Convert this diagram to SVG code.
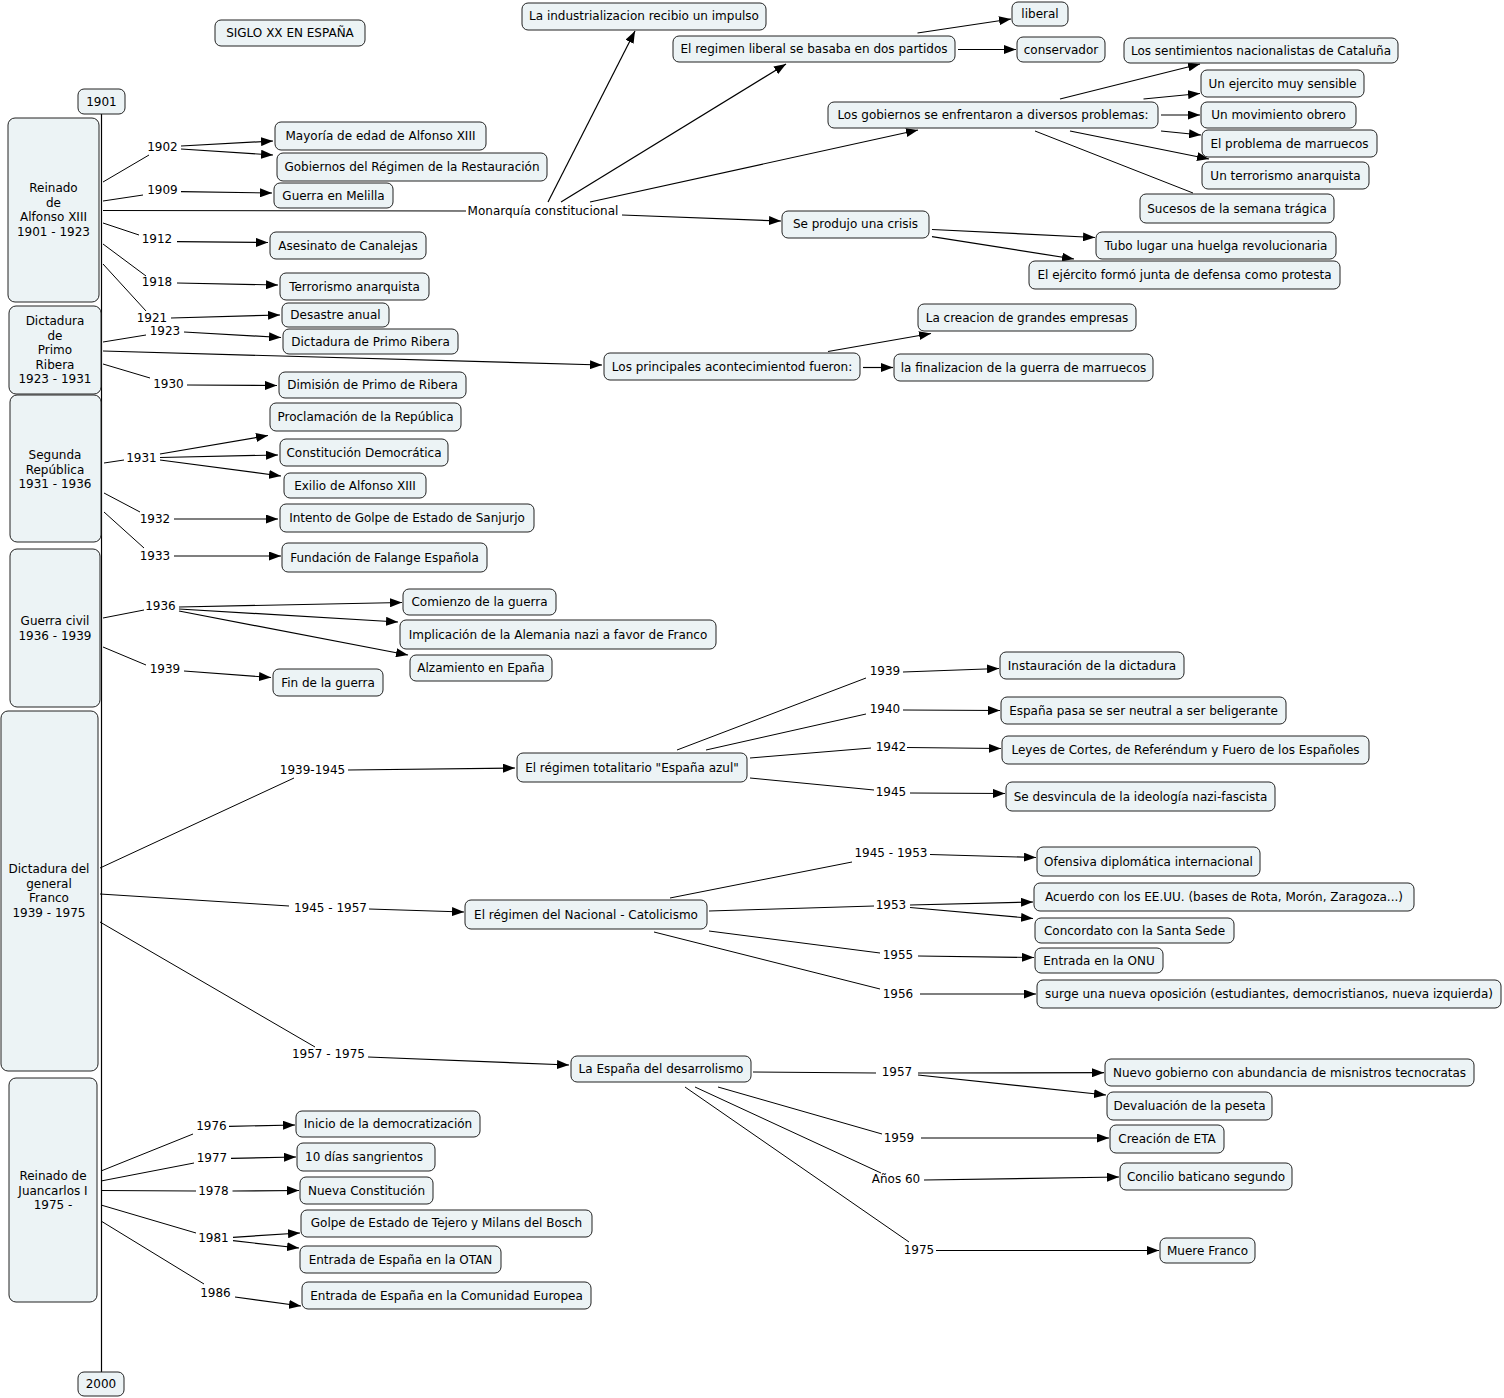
<svg xmlns="http://www.w3.org/2000/svg" width="1504" height="1398" viewBox="0 0 1504 1398">
<defs>
<marker id="ah" markerUnits="userSpaceOnUse" markerWidth="12" markerHeight="9" refX="12" refY="4.5" orient="auto"><path d="M0,0 L12,4.5 L0,9 z" fill="#000"/></marker>
<style>
rect.n{fill:#ecf3f5;stroke:#222;stroke-width:1}
text{font-family:"DejaVu Sans",Verdana,sans-serif;font-size:12px;fill:#000;text-anchor:middle;dominant-baseline:central}
#connectors line{stroke:#000;stroke-width:1;fill:none}
#connectors line.a{marker-end:url(#ah);stroke-width:1.2}
</style>
</defs>
<rect width="1504" height="1398" fill="#fff"/>
<g id="connectors">
<line x1="101.5" y1="114" x2="101.5" y2="1372" style="stroke:#000;stroke-width:1.2"/>
<line x1="103" y1="182" x2="149" y2="155"/>
<line x1="103" y1="201" x2="143" y2="195"/>
<line x1="103" y1="210.5" x2="466" y2="211"/>
<line x1="103" y1="223" x2="139" y2="235"/>
<line x1="103" y1="244" x2="146" y2="276"/>
<line x1="103" y1="264" x2="146" y2="311"/>
<line x1="103" y1="342" x2="146" y2="335"/>
<line x1="103" y1="364" x2="150" y2="378"/>
<line x1="104" y1="463" x2="124" y2="460"/>
<line x1="104" y1="493" x2="140" y2="512"/>
<line x1="104" y1="512" x2="144" y2="548"/>
<line x1="103" y1="618" x2="144" y2="610"/>
<line x1="103" y1="647" x2="146" y2="665"/>
<line x1="100" y1="868" x2="294" y2="778"/>
<line x1="100" y1="894" x2="289" y2="906"/>
<line x1="100" y1="922" x2="315" y2="1047"/>
<line x1="101" y1="1171" x2="193" y2="1134"/>
<line x1="101" y1="1181" x2="194" y2="1163"/>
<line x1="101" y1="1190.5" x2="196" y2="1191"/>
<line x1="101" y1="1205" x2="196" y2="1233"/>
<line x1="101" y1="1221" x2="204" y2="1284"/>
<line x1="677" y1="750" x2="866" y2="678"/>
<line x1="706" y1="750" x2="866" y2="714"/>
<line x1="750" y1="758" x2="871" y2="748"/>
<line x1="750" y1="778" x2="874" y2="790"/>
<line x1="670" y1="898" x2="852" y2="862"/>
<line x1="709" y1="911" x2="874" y2="906"/>
<line x1="709" y1="931" x2="880" y2="953"/>
<line x1="654" y1="932" x2="880" y2="989"/>
<line x1="753" y1="1072" x2="876" y2="1073"/>
<line x1="718" y1="1087" x2="882" y2="1134"/>
<line x1="695" y1="1087" x2="881" y2="1173"/>
<line x1="685" y1="1087" x2="909" y2="1242"/>
<line x1="1035" y1="131" x2="1193" y2="193"/>
<line class="a" x1="181" y1="146" x2="273" y2="141"/>
<line class="a" x1="181" y1="149" x2="273" y2="155"/>
<line class="a" x1="181" y1="191.7" x2="272" y2="193"/>
<line class="a" x1="177" y1="241.7" x2="268" y2="242.5"/>
<line class="a" x1="177" y1="283" x2="278" y2="285"/>
<line class="a" x1="171" y1="318" x2="280" y2="315"/>
<line class="a" x1="184" y1="332" x2="281" y2="337.5"/>
<line class="a" x1="187" y1="385" x2="277" y2="385.5"/>
<line class="a" x1="103" y1="351" x2="602" y2="365"/>
<line class="a" x1="160" y1="454" x2="268" y2="435.5"/>
<line class="a" x1="160" y1="457.5" x2="278" y2="455"/>
<line class="a" x1="160" y1="460" x2="281" y2="476"/>
<line class="a" x1="174" y1="519" x2="278" y2="519"/>
<line class="a" x1="174" y1="556" x2="281" y2="556"/>
<line class="a" x1="179" y1="607" x2="402" y2="602.5"/>
<line class="a" x1="179" y1="609" x2="398" y2="622"/>
<line class="a" x1="179" y1="611" x2="408" y2="655"/>
<line class="a" x1="184" y1="671" x2="271" y2="677.5"/>
<line class="a" x1="348" y1="770" x2="515" y2="768"/>
<line class="a" x1="369" y1="909" x2="464" y2="912"/>
<line class="a" x1="368" y1="1057" x2="569" y2="1065"/>
<line class="a" x1="903" y1="672" x2="999" y2="668.5"/>
<line class="a" x1="903" y1="710" x2="1000" y2="710.5"/>
<line class="a" x1="907" y1="747.5" x2="1001" y2="748.5"/>
<line class="a" x1="910" y1="793" x2="1005" y2="793.5"/>
<line class="a" x1="930" y1="854.5" x2="1036" y2="857.5"/>
<line class="a" x1="910" y1="905" x2="1033" y2="902"/>
<line class="a" x1="910" y1="907.5" x2="1033" y2="918.5"/>
<line class="a" x1="918" y1="956" x2="1034" y2="957.5"/>
<line class="a" x1="920" y1="994" x2="1036" y2="994"/>
<line class="a" x1="918" y1="1073" x2="1104" y2="1072.7"/>
<line class="a" x1="918" y1="1075" x2="1106" y2="1095"/>
<line class="a" x1="921" y1="1138" x2="1109" y2="1138"/>
<line class="a" x1="924" y1="1180" x2="1119" y2="1177"/>
<line class="a" x1="936" y1="1250.5" x2="1159" y2="1250.5"/>
<line class="a" x1="229" y1="1126.3" x2="295" y2="1125"/>
<line class="a" x1="231" y1="1158.4" x2="296" y2="1157"/>
<line class="a" x1="232.5" y1="1191" x2="299" y2="1190.5"/>
<line class="a" x1="233" y1="1237.3" x2="300" y2="1233"/>
<line class="a" x1="233" y1="1240.7" x2="299" y2="1248"/>
<line class="a" x1="235" y1="1297" x2="301" y2="1306"/>
<line class="a" x1="548" y1="202" x2="635" y2="31"/>
<line class="a" x1="561" y1="202" x2="786" y2="64"/>
<line class="a" x1="590" y1="202" x2="918" y2="130"/>
<line class="a" x1="622" y1="215" x2="781" y2="221"/>
<line class="a" x1="917.5" y1="33" x2="1011" y2="19"/>
<line class="a" x1="958" y1="49.5" x2="1016" y2="49.5"/>
<line class="a" x1="1060" y1="99" x2="1200" y2="64"/>
<line class="a" x1="1143.5" y1="99" x2="1200" y2="93.5"/>
<line class="a" x1="1161" y1="115" x2="1200" y2="115"/>
<line class="a" x1="1161" y1="131" x2="1201" y2="135"/>
<line class="a" x1="1070" y1="131" x2="1209" y2="159"/>
<line class="a" x1="932" y1="229.5" x2="1095" y2="237.5"/>
<line class="a" x1="932" y1="236.7" x2="1074" y2="259"/>
<line class="a" x1="828" y1="351.5" x2="931" y2="333.5"/>
<line class="a" x1="863" y1="367.5" x2="893" y2="367.5"/>
</g>
<g id="labels">
<text x="162.5" y="147">1902</text>
<text x="162.5" y="190">1909</text>
<text x="157" y="239">1912</text>
<text x="157" y="282">1918</text>
<text x="152" y="317.5">1921</text>
<text x="165" y="331">1923</text>
<text x="168.5" y="384">1930</text>
<text x="543" y="211">Monarquía constitucional</text>
<text x="141.5" y="458">1931</text>
<text x="155" y="518.5">1932</text>
<text x="155" y="556">1933</text>
<text x="160.5" y="606">1936</text>
<text x="165" y="668.5">1939</text>
<text x="312.5" y="770">1939-1945</text>
<text x="330.5" y="908">1945 - 1957</text>
<text x="328.5" y="1054">1957 - 1975</text>
<text x="885" y="671">1939</text>
<text x="885" y="709">1940</text>
<text x="891" y="747">1942</text>
<text x="891" y="792">1945</text>
<text x="891" y="853">1945 - 1953</text>
<text x="891" y="905">1953</text>
<text x="898" y="954.5">1955</text>
<text x="898" y="993.5">1956</text>
<text x="897" y="1072">1957</text>
<text x="899" y="1137.5">1959</text>
<text x="896" y="1179">Años 60</text>
<text x="919" y="1250">1975</text>
<text x="211.5" y="1126">1976</text>
<text x="212" y="1158">1977</text>
<text x="213.5" y="1191">1978</text>
<text x="213.5" y="1238">1981</text>
<text x="215.5" y="1292.5">1986</text>
</g>
<g id="title"><rect class="n" x="215" y="20" width="150" height="26" rx="6"/><text x="290" y="33">SIGLO XX EN ESPAÑA</text></g>
<g id="y1901"><rect class="n" x="78" y="89" width="47" height="25" rx="6"/><text x="101.5" y="101.5">1901</text></g>
<g id="y2000"><rect class="n" x="78" y="1372" width="46" height="24" rx="6"/><text x="101" y="1384">2000</text></g>
<g id="p-alfonso"><rect class="n" x="8" y="118" width="91" height="184" rx="7"/><text x="53.5" y="188">Reinado</text><text x="53.5" y="202.5">de</text><text x="53.5" y="217">Alfonso XIII</text><text x="53.5" y="231.5">1901 - 1923</text></g>
<g id="p-primo"><rect class="n" x="9" y="306" width="92" height="88" rx="7"/><text x="55" y="321">Dictadura</text><text x="55" y="335.5">de</text><text x="55" y="350">Primo</text><text x="55" y="364.5">Ribera</text><text x="55" y="379">1923 - 1931</text></g>
<g id="p-republica"><rect class="n" x="10" y="395" width="91" height="147" rx="7"/><text x="55" y="455">Segunda</text><text x="55" y="469.5">República</text><text x="55" y="484">1931 - 1936</text></g>
<g id="p-guerra"><rect class="n" x="10" y="549" width="90" height="158" rx="7"/><text x="55" y="620.5">Guerra civil</text><text x="55" y="635.5">1936 - 1939</text></g>
<g id="p-franco"><rect class="n" x="1" y="711" width="97" height="360" rx="7"/><text x="49" y="869">Dictadura del</text><text x="49" y="884">general</text><text x="49" y="898">Franco</text><text x="49" y="912.5">1939 - 1975</text></g>
<g id="p-juancarlos"><rect class="n" x="9" y="1078" width="88" height="224" rx="7"/><text x="53" y="1176">Reinado de</text><text x="53" y="1190.5">Juancarlos I</text><text x="53" y="1205">1975 -</text></g>
<g id="n1"><rect class="n" x="275" y="122" width="211" height="28" rx="6"/><text x="380.5" y="136">Mayoría de edad de Alfonso XIII</text></g>
<g id="n2"><rect class="n" x="277" y="153" width="270" height="28" rx="6"/><text x="412" y="167">Gobiernos del Régimen de la Restauración</text></g>
<g id="n3"><rect class="n" x="274" y="183" width="119" height="25" rx="6"/><text x="333.5" y="195.5">Guerra en Melilla</text></g>
<g id="n4"><rect class="n" x="270" y="232" width="156" height="27" rx="6"/><text x="348" y="245.5">Asesinato de Canalejas</text></g>
<g id="n5"><rect class="n" x="280" y="273" width="149" height="27" rx="6"/><text x="354.5" y="286.5">Terrorismo anarquista</text></g>
<g id="n6"><rect class="n" x="282" y="303" width="107" height="24" rx="6"/><text x="335.5" y="315">Desastre anual</text></g>
<g id="n7"><rect class="n" x="283" y="329" width="175" height="25" rx="6"/><text x="370.5" y="341.5">Dictadura de Primo Ribera</text></g>
<g id="n8"><rect class="n" x="279" y="372" width="187" height="26" rx="6"/><text x="372.5" y="385">Dimisión de Primo de Ribera</text></g>
<g id="n9"><rect class="n" x="270" y="403" width="191" height="28" rx="6"/><text x="365.5" y="417">Proclamación de la República</text></g>
<g id="n10"><rect class="n" x="280" y="439" width="168" height="27" rx="6"/><text x="364" y="452.5">Constitución Democrática</text></g>
<g id="n11"><rect class="n" x="284" y="473" width="142" height="25" rx="6"/><text x="355" y="485.5">Exilio de Alfonso XIII</text></g>
<g id="n12"><rect class="n" x="280" y="504" width="254" height="28" rx="6"/><text x="407" y="518">Intento de Golpe de Estado de Sanjurjo</text></g>
<g id="n13"><rect class="n" x="282" y="543" width="205" height="29" rx="6"/><text x="384.5" y="557.5">Fundación de Falange Española</text></g>
<g id="n14"><rect class="n" x="403" y="589" width="153" height="26" rx="6"/><text x="479.5" y="602">Comienzo de la guerra</text></g>
<g id="n15"><rect class="n" x="400" y="620" width="316" height="29" rx="6"/><text x="558" y="634.5">Implicación de la Alemania nazi a favor de Franco</text></g>
<g id="n16"><rect class="n" x="410" y="655" width="142" height="26" rx="6"/><text x="481" y="668">Alzamiento en Epaña</text></g>
<g id="n17"><rect class="n" x="273" y="669" width="110" height="27" rx="6"/><text x="328" y="682.5">Fin de la guerra</text></g>
<g id="n18"><rect class="n" x="522" y="3" width="244" height="27" rx="6"/><text x="644" y="16">La industrializacion recibio un impulso</text></g>
<g id="n19"><rect class="n" x="673" y="36" width="282" height="26" rx="6"/><text x="814" y="49">El regimen liberal se basaba en dos partidos</text></g>
<g id="n20"><rect class="n" x="1012" y="2" width="56" height="24" rx="6"/><text x="1040" y="14">liberal</text></g>
<g id="n21"><rect class="n" x="1017" y="37" width="88" height="25" rx="6"/><text x="1061" y="49.5">conservador</text></g>
<g id="n22"><rect class="n" x="828" y="102" width="330" height="26" rx="6"/><text x="993" y="115">Los gobiernos se enfrentaron a diversos problemas:</text></g>
<g id="n23"><rect class="n" x="1124" y="38" width="274" height="25" rx="6"/><text x="1261" y="51">Los sentimientos nacionalistas de Cataluña</text></g>
<g id="n24"><rect class="n" x="1201" y="70" width="163" height="27" rx="6"/><text x="1282.5" y="83.5">Un ejercito muy sensible</text></g>
<g id="n25"><rect class="n" x="1201" y="102" width="155" height="26" rx="6"/><text x="1278.5" y="115">Un movimiento obrero</text></g>
<g id="n26"><rect class="n" x="1202" y="130" width="175" height="27" rx="6"/><text x="1289.5" y="143.5">El problema de marruecos</text></g>
<g id="n27"><rect class="n" x="1202" y="162" width="167" height="27" rx="6"/><text x="1285.5" y="175.5">Un terrorismo anarquista</text></g>
<g id="n28"><rect class="n" x="1140" y="194" width="194" height="29" rx="6"/><text x="1237" y="208.5">Sucesos de la semana trágica</text></g>
<g id="n29"><rect class="n" x="782" y="211" width="147" height="27" rx="6"/><text x="855.5" y="224">Se produjo una crisis</text></g>
<g id="n30"><rect class="n" x="1096" y="232" width="240" height="27" rx="6"/><text x="1216" y="245.5">Tubo lugar una huelga revolucionaria</text></g>
<g id="n31"><rect class="n" x="1029" y="261" width="311" height="28" rx="6"/><text x="1184.5" y="275">El ejército formó junta de defensa como protesta</text></g>
<g id="n32"><rect class="n" x="918" y="304" width="218" height="27" rx="6"/><text x="1027" y="317.5">La creacion de grandes empresas</text></g>
<g id="n33"><rect class="n" x="604" y="353" width="256" height="27" rx="6"/><text x="732" y="366.5">Los principales acontecimientod fueron:</text></g>
<g id="n34"><rect class="n" x="894" y="354" width="259" height="27" rx="6"/><text x="1023.5" y="367.5">la finalizacion de la guerra de marruecos</text></g>
<g id="n35"><rect class="n" x="1000" y="652" width="184" height="27" rx="6"/><text x="1092" y="665.5">Instauración de la dictadura</text></g>
<g id="n36"><rect class="n" x="1001" y="697" width="285" height="27" rx="6"/><text x="1143.5" y="710.5">España pasa se ser neutral a ser beligerante</text></g>
<g id="n37"><rect class="n" x="1002" y="736" width="367" height="28" rx="6"/><text x="1185.5" y="750">Leyes de Cortes, de Referéndum y Fuero de los Españoles</text></g>
<g id="n38"><rect class="n" x="1006" y="782" width="269" height="29" rx="6"/><text x="1140.5" y="796.5">Se desvincula de la ideología nazi-fascista</text></g>
<g id="n39"><rect class="n" x="1037" y="847" width="223" height="29" rx="6"/><text x="1148.5" y="861.5">Ofensiva diplomática internacional</text></g>
<g id="n40"><rect class="n" x="1034" y="883" width="380" height="28" rx="6"/><text x="1224" y="897">Acuerdo con los EE.UU. (bases de Rota, Morón, Zaragoza...)</text></g>
<g id="n41"><rect class="n" x="1035" y="918" width="199" height="25" rx="6"/><text x="1134.5" y="930.5">Concordato con la Santa Sede</text></g>
<g id="n42"><rect class="n" x="1035" y="948" width="128" height="25" rx="6"/><text x="1099" y="960.5">Entrada en la ONU</text></g>
<g id="n43"><rect class="n" x="1037" y="980" width="464" height="28" rx="6"/><text x="1269" y="994">surge una nueva oposición (estudiantes, democristianos, nueva izquierda)</text></g>
<g id="n44"><rect class="n" x="517" y="753" width="230" height="29" rx="6"/><text x="632" y="767.5">El régimen totalitario "España azul"</text></g>
<g id="n45"><rect class="n" x="465" y="900" width="242" height="29" rx="6"/><text x="586" y="914.5">El régimen del Nacional - Catolicismo</text></g>
<g id="n46"><rect class="n" x="571" y="1056" width="180" height="26" rx="6"/><text x="661" y="1069">La España del desarrolismo</text></g>
<g id="n47"><rect class="n" x="1105" y="1059" width="369" height="27" rx="6"/><text x="1289.5" y="1072.5">Nuevo gobierno con abundancia de misnistros tecnocratas</text></g>
<g id="n48"><rect class="n" x="1107" y="1092" width="165" height="28" rx="6"/><text x="1189.5" y="1106">Devaluación de la peseta</text></g>
<g id="n49"><rect class="n" x="1110" y="1125" width="114" height="28" rx="6"/><text x="1167" y="1139">Creación de ETA</text></g>
<g id="n50"><rect class="n" x="1120" y="1163" width="172" height="27" rx="6"/><text x="1206" y="1176.5">Concilio baticano segundo</text></g>
<g id="n51"><rect class="n" x="1160" y="1238" width="95" height="25" rx="6"/><text x="1207.5" y="1250.5">Muere Franco</text></g>
<g id="n52"><rect class="n" x="296" y="1111" width="184" height="26" rx="6"/><text x="388" y="1124">Inicio de la democratización</text></g>
<g id="n53"><rect class="n" x="297" y="1143" width="138" height="28" rx="6"/><text x="364" y="1157">10 días sangrientos</text></g>
<g id="n54"><rect class="n" x="300" y="1177" width="133" height="27" rx="6"/><text x="366.5" y="1190.5">Nueva Constitución</text></g>
<g id="n55"><rect class="n" x="301" y="1210" width="291" height="27" rx="6"/><text x="446.5" y="1223">Golpe de Estado de Tejero y Milans del Bosch</text></g>
<g id="n56"><rect class="n" x="300" y="1246" width="201" height="27" rx="6"/><text x="400.5" y="1259.5">Entrada de España en la OTAN</text></g>
<g id="n57"><rect class="n" x="302" y="1282" width="289" height="27" rx="6"/><text x="446.5" y="1295.5">Entrada de España en la Comunidad Europea</text></g>
</svg>
